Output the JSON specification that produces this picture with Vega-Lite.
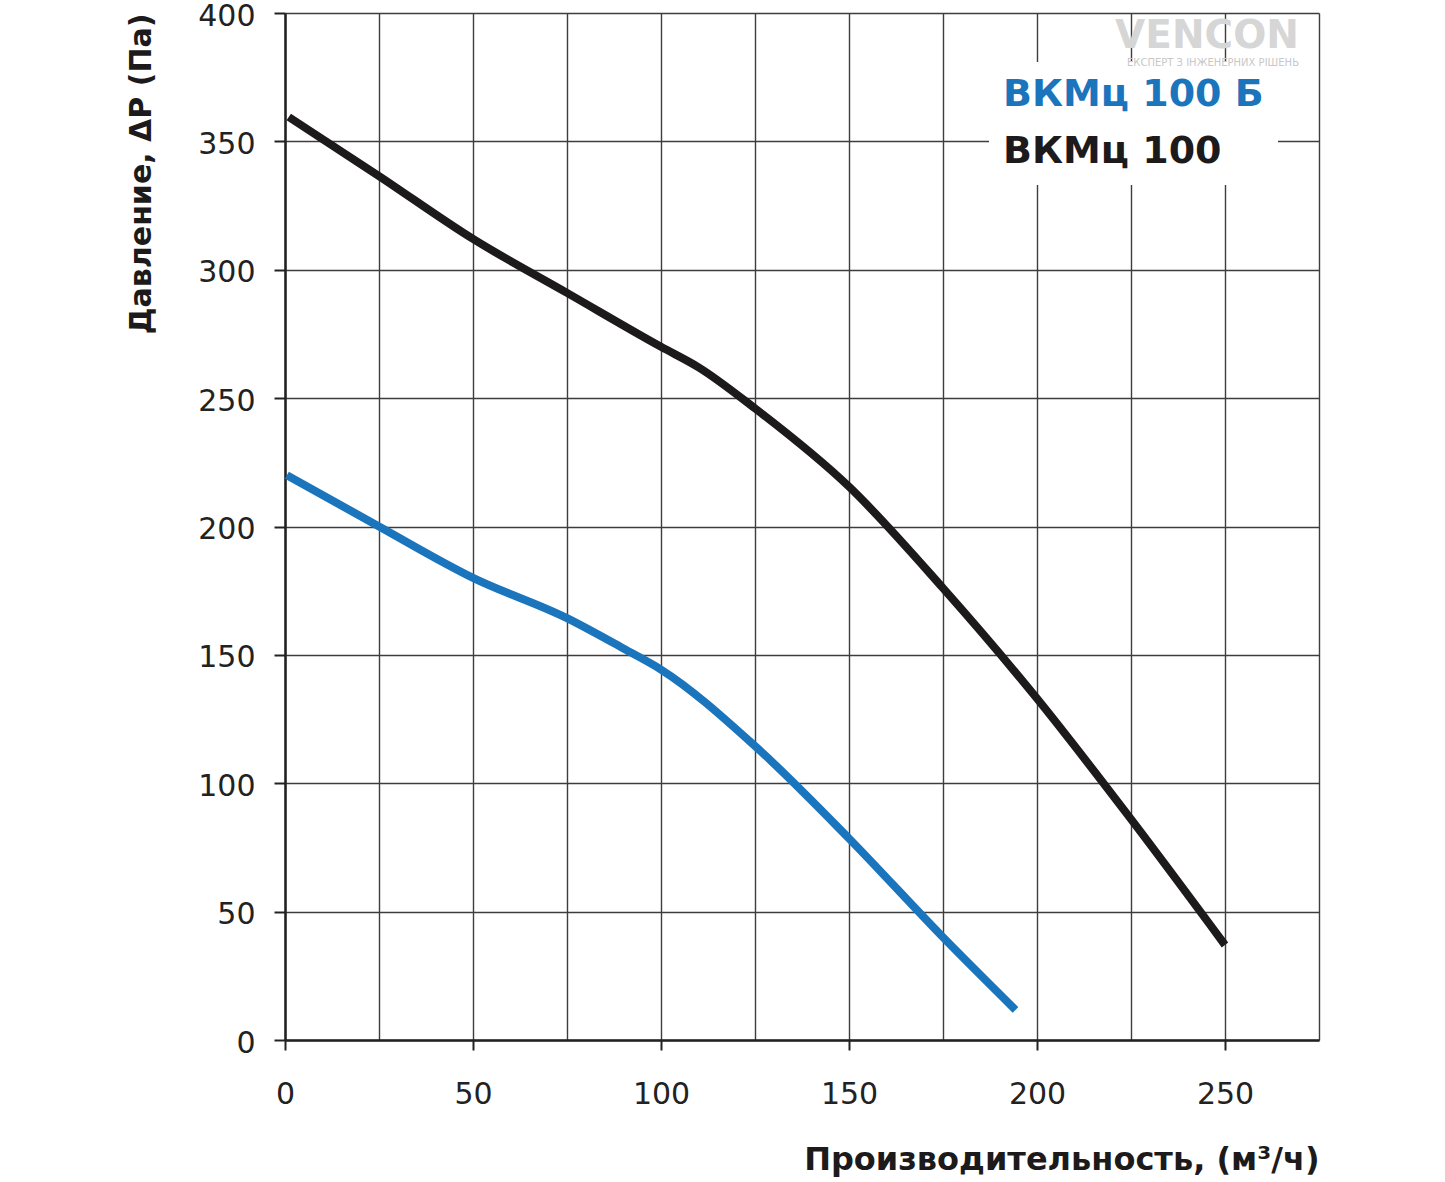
{
  "$schema": "https://vega.github.io/schema/vega-lite/v6.json",
  "width": 1034,
  "height": 1027,
  "autosize": {"type": "none"},
  "padding": {"left": 285, "top": 13, "right": 126, "bottom": 142},
  "background": "white",
  "title": {
    "text": "VENCON",
    "subtitle": "ЕКСПЕРТ З ІНЖЕНЕРНИХ РІШЕНЬ",
    "anchor": "end",
    "frame": "group",
    "font": "DejaVu Sans",
    "fontSize": 39,
    "fontWeight": "bold",
    "color": "#d6d6d6",
    "subtitleFont": "DejaVu Sans",
    "subtitleFontSize": 10,
    "subtitleColor": "#c8c8c8",
    "subtitlePadding": 2,
    "offset": 0,
    "dx": -20,
    "dy": 67
  },
  "data": {
    "values": [
      {"model": "ВКМц 100", "flow": 1, "pressure": 359.5},
      {"model": "ВКМц 100", "flow": 25, "pressure": 336.5},
      {"model": "ВКМц 100", "flow": 50, "pressure": 312},
      {"model": "ВКМц 100", "flow": 75, "pressure": 291},
      {"model": "ВКМц 100", "flow": 100, "pressure": 270},
      {"model": "ВКМц 100", "flow": 110, "pressure": 262},
      {"model": "ВКМц 100", "flow": 125, "pressure": 246},
      {"model": "ВКМц 100", "flow": 150, "pressure": 215.5},
      {"model": "ВКМц 100", "flow": 175, "pressure": 176},
      {"model": "ВКМц 100", "flow": 200, "pressure": 133},
      {"model": "ВКМц 100", "flow": 225, "pressure": 86},
      {"model": "ВКМц 100", "flow": 250, "pressure": 37},
      {"model": "ВКМц 100 Б", "flow": 0.5, "pressure": 220},
      {"model": "ВКМц 100 Б", "flow": 25, "pressure": 200},
      {"model": "ВКМц 100 Б", "flow": 50, "pressure": 180},
      {"model": "ВКМц 100 Б", "flow": 75, "pressure": 164.3},
      {"model": "ВКМц 100 Б", "flow": 90, "pressure": 152.5},
      {"model": "ВКМц 100 Б", "flow": 100, "pressure": 144.3},
      {"model": "ВКМц 100 Б", "flow": 125, "pressure": 114.5},
      {"model": "ВКМц 100 Б", "flow": 150, "pressure": 78.5},
      {"model": "ВКМц 100 Б", "flow": 175, "pressure": 40},
      {"model": "ВКМц 100 Б", "flow": 194.3, "pressure": 11.7}
    ]
  },
  "mark": {"type": "line", "interpolate": "monotone", "strokeWidth": 8, "strokeCap": "butt"},
  "encoding": {
    "x": {
      "field": "flow",
      "type": "quantitative",
      "scale": {"domain": [0, 275], "nice": false},
      "axis": {
        "values": [0, 25, 50, 75, 100, 125, 150, 175, 200, 225, 250, 275],
        "labelExpr": "datum.value % 50 === 0 && datum.value < 275 ? datum.label : ''",
        "tickOpacity": {"condition": {"test": "datum.value % 50 === 0 && datum.value < 275", "value": 1}, "value": 0},
        "tickSize": 10,
        "tickWidth": 2,
        "tickColor": "#222222",
        "domainColor": "#222222",
        "domainWidth": 2.5,
        "labelFont": "DejaVu Sans",
        "labelFontSize": 30,
        "labelColor": "#222222",
        "labelPadding": 29,
        "labelFlush": false,
        "labelOverlap": false,
        "title": "Производительность, (м³/ч)",
        "titleFont": "DejaVu Sans",
        "titleFontSize": 32,
        "titleFontWeight": "bold",
        "titleColor": "#1c1a1b",
        "titleAnchor": "end",
        "titlePadding": 35
      }
    },
    "y": {
      "field": "pressure",
      "type": "quantitative",
      "scale": {"domain": [0, 400], "nice": false},
      "axis": {
        "values": [0, 50, 100, 150, 200, 250, 300, 350, 400],
        "tickSize": 11,
        "tickWidth": 2,
        "tickColor": "#222222",
        "domainColor": "#222222",
        "domainWidth": 2.5,
        "labelFont": "DejaVu Sans",
        "labelFontSize": 30,
        "labelColor": "#222222",
        "labelPadding": 19,
        "labelOffset": 3,
        "labelFlush": false,
        "labelOverlap": false,
        "title": "Давление, ΔP (Па)",
        "titleFont": "DejaVu Sans",
        "titleFontSize": 30,
        "titleFontWeight": "bold",
        "titleColor": "#1c1a1b",
        "titleAnchor": "end",
        "titlePadding": 41
      }
    },
    "color": {
      "field": "model",
      "type": "nominal",
      "scale": {"domain": ["ВКМц 100 Б", "ВКМц 100"], "range": ["#1b75bc", "#1c1a1b"]},
      "legend": {
        "title": null,
        "orient": "none",
        "legendX": 704,
        "legendY": 49,
        "fillColor": "white",
        "padding": 14,
        "symbolType": "circle",
        "symbolOpacity": 0,
        "symbolSize": 0,
        "symbolStrokeWidth": 0,
        "labelOffset": -38,
        "labelFont": "DejaVu Sans",
        "labelFontSize": 38,
        "labelFontWeight": "bold",
        "labelLimit": 400,
        "labelColor": {"expr": "datum.value === 'ВКМц 100 Б' ? '#1b75bc' : '#1c1a1b'"},
        "rowPadding": 19
      }
    }
  },
  "config": {
    "font": "Liberation Sans",
    "view": {"stroke": null},
    "axis": {
      "grid": true,
      "gridColor": "#3d3d3d",
      "gridWidth": 1.4,
      "gridOpacity": 1
    }
  }
}
